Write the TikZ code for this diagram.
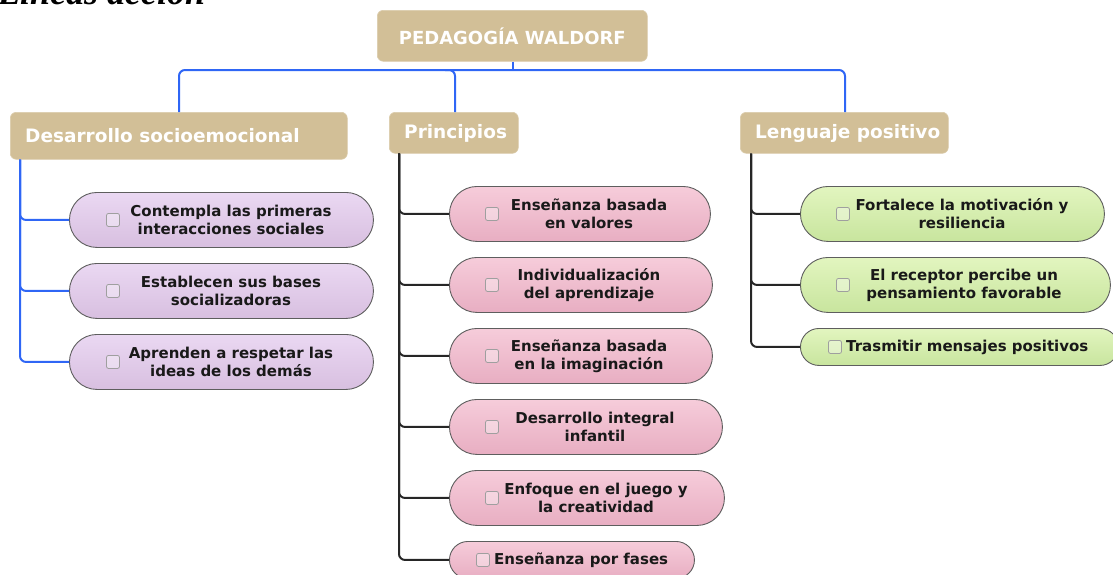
\documentclass[tikz,border=0pt]{standalone}
\usepackage{fontspec}
\setmainfont{DejaVu Sans}
\newfontfamily\titleserif{Liberation Serif}
\definecolor{tan}{HTML}{D2BF97}
\definecolor{mblue}{HTML}{2F66F5}
\definecolor{lavtop}{HTML}{EAD8F2}
\definecolor{lavbot}{HTML}{D8BFE0}
\definecolor{pinktop}{HTML}{F6CCDA}
\definecolor{pinkbot}{HTML}{E8AEC2}
\definecolor{greentop}{HTML}{E2F5BF}
\definecolor{greenbot}{HTML}{C8E59E}
\definecolor{pillborder}{HTML}{5E5E5E}
\tikzset{
  catbox/.style={fill=tan, rounded corners=6pt, draw=tan!80!white, line width=0.6pt, anchor=north west, inner sep=0pt},
  cattext/.style={text=white, font=\bfseries\fontsize{18.5}{22}\selectfont, anchor=west, inner sep=0pt},
  roottext/.style={text=white, font=\bfseries\fontsize{18}{21}\selectfont, inner sep=0pt},
  pillbase/.style={draw=pillborder, line width=0.9pt, anchor=north west, inner sep=0pt},
  lav/.style={pillbase, top color=lavtop, bottom color=lavbot},
  pnk/.style={pillbase, top color=pinktop, bottom color=pinkbot},
  grn/.style={pillbase, top color=greentop, bottom color=greenbot},
  ptext/.style={font=\bfseries\fontsize{15}{18}\selectfont, align=center, text=black!90, inner sep=0pt},
  ptextl/.style={font=\bfseries\fontsize{15}{18}\selectfont, anchor=west, text=black!90, inner sep=0pt},
  chk/.style={draw=gray!75, line width=0.8pt, fill=white, fill opacity=0.35, draw opacity=1, rounded corners=2pt, minimum size=13pt, inner sep=0pt},
  blueln/.style={draw=mblue, line width=2pt, rounded corners=6pt},
  blackln/.style={draw=black!85, line width=2pt, rounded corners=6pt}
}
\begin{document}
\begin{tikzpicture}[x=1pt,y=-1pt]
\useasboundingbox (0,0) rectangle (1113,574);
% title (cut at top, as in the reference)
\node[anchor=base west, inner sep=0pt, font=\titleserif\bfseries\itshape\fontsize{36}{40}\selectfont] (ttl) at (-2,4) {Líneas acción};
% root
\node[catbox, minimum width=270pt, minimum height=51pt] (root) at (377,10) {};
\node[roottext] (roott) at (root.center) {PEDAGOGÍA WALDORF};
% categories
\node[catbox, minimum width=337pt, minimum height=47pt] (dso) at (10,112) {};
\node[cattext] (dsot) at (25,136) {Desarrollo socioemocional};
\node[catbox, minimum width=129pt, minimum height=41pt] (pri) at (389,112) {};
\node[cattext] (prit) at (404,133) {Principios};
\node[catbox, minimum width=208pt, minimum height=41pt] (len) at (740,112) {};
\node[cattext] (lent) at (755,133) {Lenguaje positivo};
% top connectors
\coordinate (hub) at (513,70);
\draw[blueln, rounded corners=0pt] (root.south -| hub) -- (hub);
\draw[blueln] (179,112) |- (hub) -| (845,112);
\draw[blueln] (455,112) |- (445,70);
% left children
\node[lav, minimum width=304pt, minimum height=55pt, rounded corners=27.5pt] (l1) at (69,192) {};
\node[lav, minimum width=304pt, minimum height=55pt, rounded corners=27.5pt] (l2) at (69,263) {};
\node[lav, minimum width=304pt, minimum height=55pt, rounded corners=27.5pt] (l3) at (69,334) {};
\foreach \n/\t in {l1/{Contempla las primeras\\interacciones sociales},l2/{Establecen sus bases\\socializadoras},l3/{Aprenden a respetar las\\ideas de los demás}}{
  \node[chk] (\n c) at (\n.west -| 113,0) {};
  \node[ptext] (\n t) at (\n.center -| 231,0) {\t};
}
\draw[blueln] ([xshift=10pt]dso.south west) |- (l3.west);
\draw[blueln] ([xshift=10pt]dso.south west) |- (l1.west);
\draw[blueln] ([xshift=10pt]dso.south west) |- (l2.west);
% middle children
\node[pnk, minimum width=261pt, minimum height=55pt, rounded corners=27.5pt] (m1) at (449,186) {};
\node[pnk, minimum width=263pt, minimum height=55pt, rounded corners=27.5pt] (m2) at (449,257) {};
\node[pnk, minimum width=263pt, minimum height=55pt, rounded corners=27.5pt] (m3) at (449,328) {};
\node[pnk, minimum width=273pt, minimum height=55pt, rounded corners=27.5pt] (m4) at (449,399) {};
\node[pnk, minimum width=275pt, minimum height=55pt, rounded corners=27.5pt] (m5) at (449,470) {};
\node[pnk, minimum width=245pt, minimum height=37pt, rounded corners=18.5pt] (m6) at (449,541) {};
\foreach \n/\cx/\t in {m1/589/{Enseñanza basada\\en valores},m2/589/{Individualización\\del aprendizaje},m3/589/{Enseñanza basada\\en la imaginación},m4/595/{Desarrollo integral\\infantil},m5/596/{Enfoque en el juego y\\la creatividad}}{
  \node[chk] (\n c) at (\n.west -| 492,0) {};
  \node[ptext] (\n t) at (\n.center -| \cx,0) {\t};
}
\node[chk] (m6c) at (m6.west -| 483,0) {};
\node[ptextl] (m6t) at (m6.center -| 494,0) {Enseñanza por fases};
\foreach \n in {m1,m2,m3,m4,m5,m6}{
  \draw[blackln] (pri.south -| 399,0) |- (\n.west);
}
% right children
\node[grn, minimum width=304pt, minimum height=55pt, rounded corners=27.5pt] (r1) at (800,186) {};
\node[grn, minimum width=310pt, minimum height=55pt, rounded corners=27.5pt] (r2) at (800,257) {};
\node[grn, minimum width=318pt, minimum height=37pt, rounded corners=18.5pt] (r3) at (800,328) {};
\foreach \n/\cx/\t in {r1/962/{Fortalece la motivación y\\resiliencia},r2/964/{El receptor percibe un\\pensamiento favorable}}{
  \node[chk] (\n c) at (\n.west -| 843,0) {};
  \node[ptext] (\n t) at (\n.center -| \cx,0) {\t};
}
\node[chk] (r3c) at (r3.west -| 835,0) {};
\node[ptextl] (r3t) at (r3.center -| 846,0) {Trasmitir mensajes positivos};
\foreach \n in {r1,r2,r3}{
  \draw[blackln] (len.south -| 751,0) |- (\n.west);
}
\end{tikzpicture}
\end{document}
